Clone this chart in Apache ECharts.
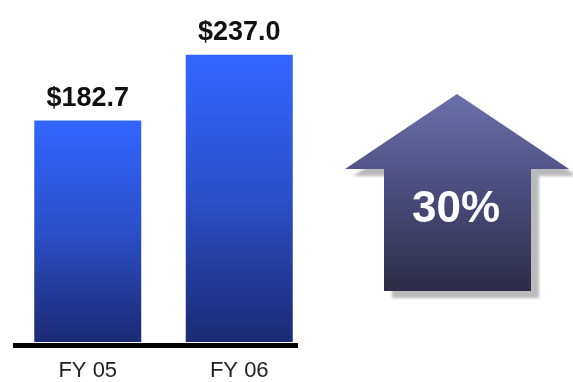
<!DOCTYPE html>
<html>
<head>
<meta charset="utf-8">
<style>
  html, body { margin: 0; padding: 0; background: #ffffff; }
  #chart { width: 573px; height: 382px; }
</style>
<script src="https://cdn.jsdelivr.net/npm/echarts@6/dist/echarts.min.js"></script>
</head>
<body>
<div id="chart"></div>
<script>
// Fiscal-year revenue (in $ millions)
const categories = ['FY 05', 'FY 06'];
const revenue = [182.7, 237.0];

// Year-over-year growth shown inside the arrow
const growthPct = Math.round((revenue[1] / revenue[0] - 1) * 100);

const chart = echarts.init(document.getElementById('chart'));

const barGradient = new echarts.graphic.LinearGradient(0, 0, 0, 1, [
  { offset: 0, color: '#3366ff' },
  { offset: 0.5, color: '#2a4fc8' },
  { offset: 1, color: '#1b2a72' }
]);

const arrowGradient = new echarts.graphic.LinearGradient(0, 0, 0, 1, [
  { offset: 0, color: '#6c70aa' },
  { offset: 0.5, color: '#4a4c7e' },
  { offset: 1, color: '#2d2d46' }
]);

chart.setOption({
  animation: false,
  backgroundColor: '#ffffff',
  grid: { left: 12, top: 39, width: 303, bottom: 39, containLabel: false },
  xAxis: {
    type: 'category',
    data: categories,
    axisLine: { show: false },
    axisTick: { show: false },
    axisLabel: {
      color: '#222222',
      fontFamily: 'Liberation Sans, Arial, sans-serif',
      fontSize: 22,
      margin: 18
    }
  },
  yAxis: {
    type: 'value',
    min: 0,
    max: 250,
    show: false,
    splitLine: { show: false }
  },
  series: [{
    type: 'bar',
    data: revenue,
    barWidth: 107,
    itemStyle: { color: barGradient },
    label: {
      show: true,
      position: 'top',
      distance: 9,
      formatter: p => '$' + p.value.toFixed(1),
      color: '#111111',
      fontFamily: 'Liberation Sans, Arial, sans-serif',
      fontWeight: 'bold',
      fontSize: 27
    }
  }],
  graphic: [
    // baseline under the bars
    {
      type: 'rect',
      shape: { x: 13, y: 343, width: 285, height: 5 },
      style: { fill: '#000000' },
      z: 10
    },
    // growth arrow
    {
      type: 'polygon',
      shape: {
        points: [
          [457, 94], [569, 169], [531, 169], [531, 291],
          [384, 291], [384, 169], [345, 169]
        ]
      },
      style: {
        fill: arrowGradient,
        shadowColor: 'rgba(0,0,0,0.27)',
        shadowBlur: 3,
        shadowOffsetX: 8,
        shadowOffsetY: 7
      }
    },
    {
      type: 'text',
      x: 456,
      y: 210,
      style: {
        text: growthPct + '%',
        fill: '#ffffff',
        font: 'bold 44px "Liberation Sans", Arial, sans-serif',
        align: 'center',
        verticalAlign: 'middle'
      },
      z: 20
    }
  ]
});
</script>
</body>
</html>
